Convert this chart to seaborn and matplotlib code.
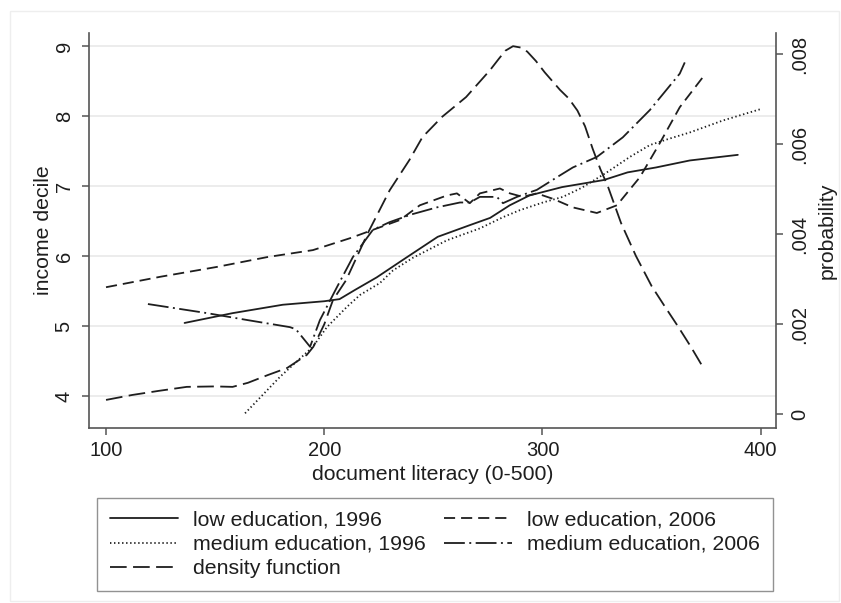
import matplotlib
matplotlib.use("Agg")
import matplotlib.pyplot as plt
import seaborn as sns
import pandas as pd
from matplotlib.patches import Rectangle

# Income decile by document literacy score, smoothed per education group
low96_x = [136, 158, 181, 200, 207, 214, 224, 236, 252, 267, 276, 285, 294, 309, 328, 339, 352, 367.5, 389.5]
low96_y = [5.05, 5.19, 5.31, 5.36, 5.39, 5.52, 5.70, 5.95, 6.28, 6.45, 6.55, 6.73, 6.87, 6.99, 7.09, 7.20, 7.27, 7.37, 7.45]

low06_x = [100, 125, 150.8, 173.8, 194.8, 211.8, 234.7, 243.8, 256.2, 260.8, 266.7, 271.3, 280.5, 285.1,
           291.0, 297.4, 305, 313.9, 324.9, 334.1, 344.6, 353.8, 362.9, 373.5]
low06_y = [5.56, 5.71, 5.85, 5.99, 6.09, 6.26, 6.52, 6.73, 6.87, 6.90, 6.76, 6.90, 6.97, 6.90,
           6.85, 6.90, 6.82, 6.70, 6.62, 6.73, 7.13, 7.62, 8.13, 8.56]

med96_x = [163.7, 179.7, 194.8, 201.2, 210.4, 216.4, 225.5, 231.5, 240.6, 256.2, 271.3, 281.9, 289.6,
           300.2, 309.3, 318, 329.5, 340, 349.2, 358, 367.5, 382.6, 399.6]
med96_y = [3.76, 4.28, 4.71, 4.99, 5.28, 5.45, 5.62, 5.80, 5.98, 6.23, 6.40, 6.56, 6.66,
           6.77, 6.85, 6.98, 7.20, 7.42, 7.59, 7.68, 7.77, 7.94, 8.10]

med06_x = [119.2, 146.3, 165, 184.3, 187, 193.5, 198, 205.8, 213.1, 222.3, 230, 240, 251.6, 262.2,
           266.7, 271.3, 279.1, 281.9, 288.3, 297.4, 306.6, 313.9, 324.9, 336.8, 349.2, 362.9, 365.2]
med06_y = [5.32, 5.19, 5.09, 4.99, 4.96, 4.71, 5.09, 5.56, 5.99, 6.38, 6.49, 6.60, 6.70, 6.77,
           6.77, 6.85, 6.85, 6.76, 6.85, 6.95, 7.13, 7.27, 7.42, 7.70, 8.09, 8.61, 8.77]

# Density of literacy scores (right axis)
dens_x = [100, 112, 124, 137, 150, 158, 165, 174, 183, 192, 195, 200, 204, 210, 220, 230, 239, 245,
          254, 265, 276, 280, 283, 286.5, 290, 293, 297, 301, 308, 312, 316, 319.5, 323, 326.5, 330,
          336, 342.8, 350, 356, 362, 368, 373.5]
dens_p = [.00032, .00043, .00052, .00061, .00062, .00061, .00070, .00087, .00103, .00132, .00150,
          .00200, .00254, .00298, .00403, .00498, .00565, .00616, .00661, .00705, .00765, .00790,
          .00808, .00818, .00815, .00806, .00785, .00760, .00721, .00702, .00675, .00640, .00590,
          .00545, .00506, .00425, .00352, .00285, .00240, .00196, .00150, .00105]

x_ticks = [100, 200, 300, 400]
left_ticks = [4, 5, 6, 7, 8, 9]
right_ticks = [0, .002, .004, .006, .008]
right_labels = ["0", ".002", ".004", ".006", ".008"]

sns.set_theme(style="white")
plt.rcParams["font.family"] = ["Liberation Sans", "DejaVu Sans"]
plt.rcParams["lines.scale_dashes"] = False

FS_TICK = 14.5
FS = 15.3
INK = "#1e1e1e"
AXC = "#555555"

fig = plt.figure(figsize=(8.41, 6.03), dpi=100)
fig.patch.set_facecolor("white")
ax = fig.add_axes([89 / 841, 1 - 428 / 603, (776 - 89) / 841, (428 - 33) / 603])
ax2 = ax.twinx()

# faint outer graph-region border
fig.patches.append(Rectangle((10 / 841, 2 / 603), 829 / 841, 590 / 603, transform=fig.transFigure,
                             fill=False, edgecolor="#eeeeee", lw=1.0, zorder=0))

lw = 1.3
series = [
    (low96_x, low96_y, "-", "low education, 1996"),
    (med96_x, med96_y, (0, (1.0, 1.9)), "medium education, 1996"),
    (low06_x, low06_y, (0, (8.0, 4.3)), "low education, 2006"),
    (med06_x, med06_y, (0, (15.0, 3.2, 1.4, 3.2)), "medium education, 2006"),
]
handles = {}
for xs, ys, ls, name in series:
    df = pd.DataFrame({"x": xs, "y": ys})
    sns.lineplot(data=df, x="x", y="y", ax=ax, color=INK, lw=lw, linestyle=ls,
                 sort=False, errorbar=None, label=name, legend=False)
    handles[name] = ax.lines[-1]

ddf = pd.DataFrame({"x": dens_x, "p": dens_p})
sns.lineplot(data=ddf, x="x", y="p", ax=ax2, color=INK, lw=lw, linestyle=(0, (12.0, 4.6)),
             sort=False, errorbar=None, label="density function", legend=False)
handles["density function"] = ax2.lines[-1]

ax.set_xlim(92.2, 407)
ax.set_ylim(3.55, 9.19)
ax2.set_ylim(-0.000304, 0.008473)

ax.set_xticks(x_ticks)
ax.set_xticklabels([str(t) for t in x_ticks], fontsize=FS_TICK, color=INK)
ax.set_yticks(left_ticks)
ax.set_yticklabels([str(t) for t in left_ticks], fontsize=FS_TICK, color=INK, rotation=90, va="center")
ax2.set_yticks(right_ticks)
ax2.set_yticklabels(right_labels, fontsize=FS_TICK, color=INK, rotation=90, va="center")

ax.grid(axis="y", color="#e9e9e9", lw=1.2)
ax.grid(axis="x", visible=False)
ax2.grid(False)
ax.set_axisbelow(True)

for a in (ax, ax2):
    a.spines["top"].set_visible(False)
    for s in ("left", "right", "bottom"):
        a.spines[s].set_color(AXC)
        a.spines[s].set_linewidth(1.2)
ax.spines["right"].set_visible(False)
ax2.spines["left"].set_visible(False)
ax2.spines["bottom"].set_visible(False)

ax.tick_params(axis="x", direction="out", length=5, width=1.1, color=AXC, pad=4, bottom=True)
ax.tick_params(axis="y", direction="out", length=5, width=1.1, color=AXC, pad=6, left=True)
ax2.tick_params(axis="y", direction="out", length=5, width=1.1, color=AXC, pad=5, right=True)

ax.set_xlabel("document literacy (0-500)", fontsize=FS, color=INK, labelpad=4)
ax.set_ylabel("income decile", fontsize=FS, color=INK, labelpad=1)
ax2.set_ylabel("probability", fontsize=FS, color=INK, labelpad=6, rotation=90)

order = ["low education, 1996", "medium education, 1996", "density function",
         "low education, 2006", "medium education, 2006"]
leg = fig.legend([handles[k] for k in order], order, ncol=2, mode="expand",
                 bbox_to_anchor=(97 / 841, 1 - 591 / 603, (773 - 97) / 841, (591 - 494) / 603),
                 loc="lower left", fontsize=FS, frameon=True, fancybox=False, shadow=False,
                 handlelength=3.2, handletextpad=0.7, labelspacing=0.25, borderpad=0.6,
                 borderaxespad=0, columnspacing=1.5)
leg.get_frame().set_edgecolor("#777777")
leg.get_frame().set_linewidth(1.0)
for t in leg.get_texts():
    t.set_color(INK)

fig.savefig("out.png", dpi=100, facecolor="white")
